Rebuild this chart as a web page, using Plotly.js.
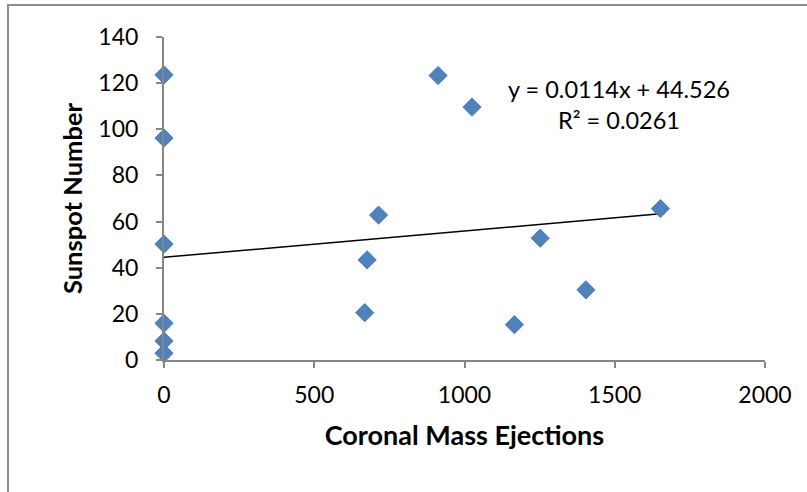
<!DOCTYPE html>
<html>
<head>
<meta charset="utf-8">
<script src="https://cdn.plot.ly/plotly-3.0.1.min.js"></script>
<style>
html,body{margin:0;padding:0;background:#fff;}
#wrap{position:relative;width:807px;height:492px;}
#chart{width:807px;height:492px;}
#frame{position:absolute;left:7px;top:4px;width:800px;height:488px;border-left:2px solid #8c8c8c;border-top:2px solid #8c8c8c;pointer-events:none;box-sizing:border-box;}
</style>
</head>
<body>
<div id="wrap"><div id="chart"></div><div id="frame"></div></div>
<script>
// Data
const cmeValues = [0, 0, 0, 0, 0, 0, 912, 1025, 714, 676, 668, 1652, 1252, 1404, 1166];
const sunspotValues = [123.6, 96.2, 50.2, 15.9, 8.2, 2.9, 123.3, 109.6, 62.8, 43.4, 20.5, 65.6, 52.8, 30.4, 15.3];
const trendSlope = 0.0114;
const trendIntercept = 44.526;
const equationText = "y = 0.0114x + 44.526<br>R² = 0.0261";
const xTickValues = [0, 500, 1000, 1500, 2000];
const yTickValues = [0, 20, 40, 60, 80, 100, 120, 140];

const xMin = Math.min(...cmeValues), xMax = Math.max(...cmeValues);
const trendX = [xMin, xMax];
const trendY = trendX.map(v => trendSlope * v + trendIntercept);

const font = "Lato, 'Open Sans', sans-serif";

const traces = [
  {
    x: trendX, y: trendY, type: 'scatter', mode: 'lines',
    line: {color: '#000000', width: 1.5}, hoverinfo: 'skip', showlegend: false, cliponaxis: false
  },
  {
    x: cmeValues, y: sunspotValues, type: 'scatter', mode: 'markers',
    marker: {symbol: 'diamond', size: 14, color: '#4F81BD', line: {color: '#4A7EBB', width: 1}},
    showlegend: false, cliponaxis: false
  }
];

const layout = {
  width: 807, height: 492,
  margin: {l: 163.5, r: 42, t: 37, b: 132, pad: 0},
  paper_bgcolor: '#ffffff', plot_bgcolor: '#ffffff',
  font: {family: font, size: 23, color: '#000000'},
  xaxis: {
    range: [0, 2000], tickvals: xTickValues, ticktext: xTickValues.map(String),
    showgrid: false, zeroline: false, showline: true, linecolor: '#868686', linewidth: 2,
    ticks: 'outside', ticklen: 6, tickcolor: '#868686', tickwidth: 2,
    ticklabelstandoff: 7,
    tickfont: {family: font, size: 23, color: '#000'},
    title: {text: '<b>Coronal Mass Ejections</b>', font: {family: font, size: 27, color: '#000'}, standoff: 20}
  },
  yaxis: {
    range: [0, 140], tickvals: yTickValues, ticktext: yTickValues.map(String),
    showgrid: false, zeroline: false, showline: true, linecolor: '#868686', linewidth: 2,
    ticks: 'outside', ticklen: 6, tickcolor: '#868686', tickwidth: 2,
    ticklabelstandoff: 13,
    tickfont: {family: font, size: 23, color: '#000'},
    title: {text: '<b>Sunspot Number</b>', font: {family: font, size: 25.5, color: '#000'}, standoff: 8}
  },
  annotations: [{
    x: 1514, y: 110.6, xref: 'x', yref: 'y', text: equationText, showarrow: false,
    font: {family: font, size: 23.5, color: '#000'}, align: 'center'
  }]
};

Plotly.newPlot('chart', traces, layout, {displayModeBar: false, staticPlot: true});
</script>
</body>
</html>
